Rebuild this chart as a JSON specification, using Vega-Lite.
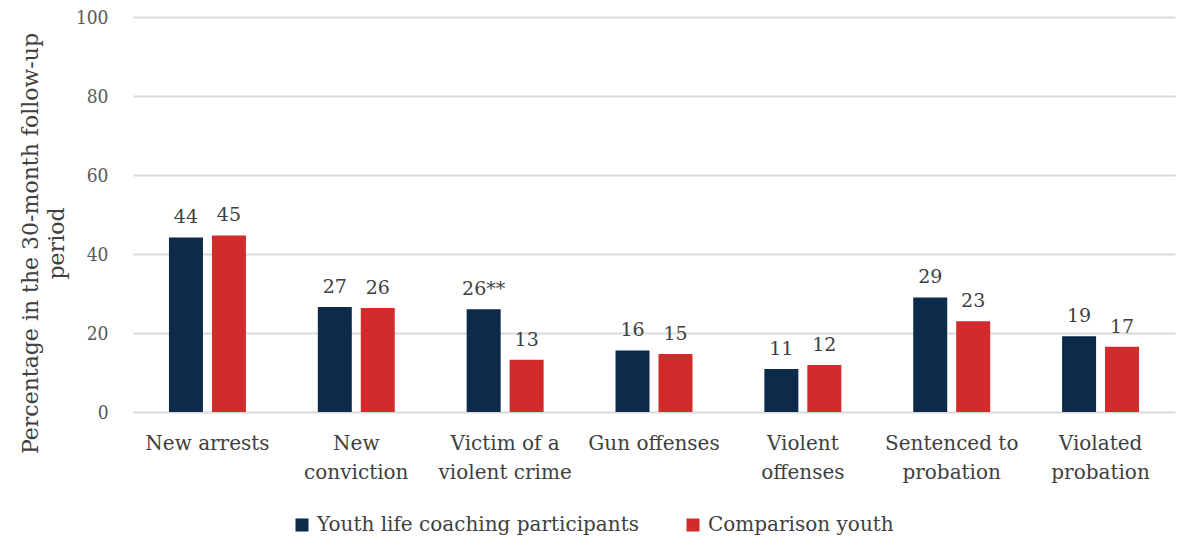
{
  "$schema": "https://vega.github.io/schema/vega-lite/v6.json",
  "width": 1042,
  "height": 395,
  "autosize": {"type": "none"},
  "padding": {"left": 133, "top": 17, "right": 5, "bottom": 130},
  "background": "white",
  "config": {
    "font": "DejaVu Serif",
    "view": {"stroke": null}
  },
  "data": {
    "values": [
      {"outcome": "New arrests", "group": "Youth life coaching participants", "value": 44.2, "label": "44"},
      {"outcome": "New arrests", "group": "Comparison youth", "value": 44.7, "label": "45"},
      {"outcome": "New conviction", "group": "Youth life coaching participants", "value": 26.6, "label": "27"},
      {"outcome": "New conviction", "group": "Comparison youth", "value": 26.3, "label": "26"},
      {"outcome": "Victim of a violent crime", "group": "Youth life coaching participants", "value": 26.0, "label": "26**"},
      {"outcome": "Victim of a violent crime", "group": "Comparison youth", "value": 13.2, "label": "13"},
      {"outcome": "Gun offenses", "group": "Youth life coaching participants", "value": 15.6, "label": "16"},
      {"outcome": "Gun offenses", "group": "Comparison youth", "value": 14.7, "label": "15"},
      {"outcome": "Violent offenses", "group": "Youth life coaching participants", "value": 10.9, "label": "11"},
      {"outcome": "Violent offenses", "group": "Comparison youth", "value": 11.9, "label": "12"},
      {"outcome": "Sentenced to probation", "group": "Youth life coaching participants", "value": 29.0, "label": "29"},
      {"outcome": "Sentenced to probation", "group": "Comparison youth", "value": 23.0, "label": "23"},
      {"outcome": "Violated probation", "group": "Youth life coaching participants", "value": 19.2, "label": "19"},
      {"outcome": "Violated probation", "group": "Comparison youth", "value": 16.5, "label": "17"}
    ]
  },
  "encoding": {
    "x": {
      "field": "outcome",
      "type": "nominal",
      "sort": null,
      "scale": {"paddingInner": 0.483, "paddingOuter": 0.2416},
      "axis": {
        "title": null,
        "domain": false,
        "ticks": false,
        "labelAngle": 0,
        "labelFont": "DejaVu Serif",
        "labelFontSize": 20,
        "labelColor": "#404040",
        "labelPadding": 21,
        "labelBaseline": "top",
        "labelLineHeight": 29,
        "labelLimit": 0,
        "labelExpr": "datum.value == 'New conviction' ? ['New', 'conviction'] : datum.value == 'Victim of a violent crime' ? ['Victim of a', 'violent crime'] : datum.value == 'Violent offenses' ? ['Violent', 'offenses'] : datum.value == 'Sentenced to probation' ? ['Sentenced to', 'probation'] : datum.value == 'Violated probation' ? ['Violated', 'probation'] : datum.value"
      }
    },
    "xOffset": {
      "field": "group",
      "type": "nominal",
      "sort": ["Youth life coaching participants", "Comparison youth"],
      "scale": {"paddingInner": 0.209, "paddingOuter": 0}
    },
    "y": {
      "field": "value",
      "type": "quantitative",
      "scale": {"domain": [0, 100], "nice": false},
      "axis": {
        "values": [0, 20, 40, 60, 80, 100],
        "title": ["Percentage in the 30-month follow-up", "period"],
        "titleFont": "DejaVu Serif",
        "titleFontSize": 22,
        "titleFontWeight": "normal",
        "titleColor": "#404040",
        "titleAngle": -90,
        "titleAlign": "center",
        "titleBaseline": "middle",
        "titleLineHeight": 26,
        "titleX": -103,
        "titleY": 226,
        "domain": false,
        "ticks": false,
        "labelFont": "DejaVu Serif Condensed, DejaVu Serif",
        "labelFontSize": 19,
        "labelColor": "#595959",
        "labelPadding": 25,
        "gridColor": "#d9d9d9",
        "gridWidth": 2
      }
    }
  },
  "layer": [
    {
      "mark": {"type": "bar"},
      "encoding": {
        "color": {
          "field": "group",
          "type": "nominal",
          "sort": ["Youth life coaching participants", "Comparison youth"],
          "scale": {"domain": ["Youth life coaching participants", "Comparison youth"], "range": ["#0d2a4a", "#d22b2b"]},
          "legend": {
            "title": null,
            "orient": "none",
            "direction": "horizontal",
            "legendX": 159,
            "legendY": 498,
            "symbolType": "square",
            "symbolSize": 170,
            "symbolStrokeWidth": 0,
            "labelFont": "DejaVu Serif",
            "labelFontSize": 20,
            "labelColor": "#404040",
            "labelOffset": 5,
            "labelLimit": 0,
            "columnPadding": 44
          }
        }
      }
    },
    {
      "mark": {"type": "text", "baseline": "bottom", "dy": -10, "fontSize": 19, "color": "#404040", "font": "DejaVu Serif"},
      "encoding": {
        "text": {"field": "label", "type": "nominal"}
      }
    }
  ]
}
